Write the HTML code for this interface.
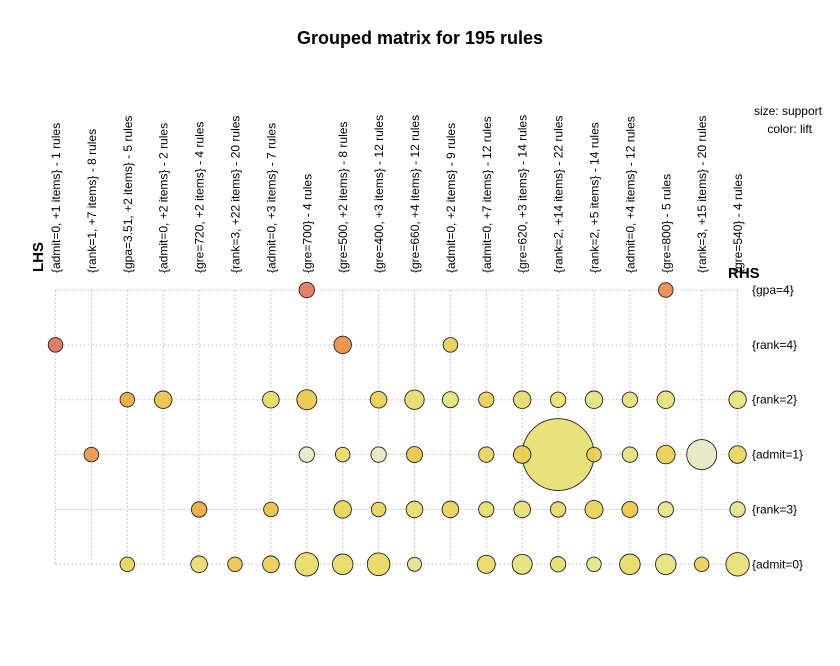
<!DOCTYPE html>
<html><head><meta charset="utf-8"><style>
body{margin:0;background:#fff;}
svg text{font-family:"Liberation Sans",Arial,sans-serif;}
</style></head><body>
<svg id="chart" width="840" height="661" viewBox="0 0 840 661" xmlns="http://www.w3.org/2000/svg">
<rect width="840" height="661" fill="#fff"/>
<text x="420" y="44" text-anchor="middle" font-size="18" font-weight="bold">Grouped matrix for 195 rules</text>
<text x="822" y="115" text-anchor="end" font-size="12">size: support</text>
<text x="812" y="133" text-anchor="end" font-size="12">color: lift</text>
<text transform="translate(43,272) rotate(-90)" font-size="15" font-weight="bold">LHS</text>
<text x="728" y="278" font-size="15" font-weight="bold">RHS</text>
<g id="grid"></g>
<g id="marks"></g>
<g id="labels"></g>
</svg>
<script>
const lhsLabels = ["{admit=0, +1 items} - 1 rules","{rank=1, +7 items} - 8 rules","{gpa=3.51, +2 items} - 5 rules","{admit=0, +2 items} - 2 rules","{gre=720, +2 items} - 4 rules","{rank=3, +22 items} - 20 rules","{admit=0, +3 items} - 7 rules","{gre=700} - 4 rules","{gre=500, +2 items} - 8 rules","{gre=400, +3 items} - 12 rules","{gre=660, +4 items} - 12 rules","{admit=0, +2 items} - 9 rules","{admit=0, +7 items} - 12 rules","{gre=620, +3 items} - 14 rules","{rank=2, +14 items} - 22 rules","{rank=2, +5 items} - 14 rules","{admit=0, +4 items} - 12 rules","{gre=800} - 5 rules","{rank=3, +15 items} - 20 rules","{gre=540} - 4 rules"];
const rhsLabels = ["{gpa=4}","{rank=4}","{rank=2}","{admit=1}","{rank=3}","{admit=0}"];
// points: column index, row index, support (relative), lift
const pointCol = [0,1,2,2,3,4,4,5,6,6,6,7,7,7,7,8,8,8,8,9,9,9,9,10,10,10,10,11,11,11,12,12,12,12,13,13,13,13,14,14,14,14,15,15,15,15,16,16,16,16,17,17,17,17,17,18,18,19,19,19,19];
const pointRow = [1,3,2,5,2,4,5,5,2,4,5,0,2,3,5,1,3,4,5,2,3,4,5,2,3,4,5,1,2,4,2,3,4,5,2,3,4,5,2,3,4,5,2,3,4,5,2,3,4,5,0,2,3,4,5,3,5,2,3,4,5];
const pointSupport = [0.53,0.53,0.53,0.53,0.76,0.59,0.69,0.53,0.69,0.53,0.69,0.59,1.0,0.59,1.37,0.76,0.53,0.76,1.06,0.69,0.59,0.53,1.28,0.94,0.64,0.69,0.49,0.53,0.64,0.69,0.59,0.59,0.59,0.81,0.76,0.76,0.69,1.0,0.59,12.9,0.59,0.59,0.76,0.53,0.81,0.53,0.59,0.59,0.64,1.06,0.53,0.76,0.86,0.59,1.06,2.25,0.53,0.76,0.76,0.59,1.37];
const pointLift = [4.0,3.4,3.0,2.2,2.6,3.0,1.8,2.5,1.9,2.6,2.3,3.9,2.5,1.0,1.9,3.5,1.9,2.2,1.9,2.3,1.0,2.2,2.0,1.9,2.5,1.8,1.4,2.3,1.6,2.2,2.3,2.1,1.8,1.9,1.9,2.3,1.7,1.6,1.7,1.75,1.9,1.8,1.5,2.3,2.2,1.45,1.7,1.55,2.5,1.9,3.6,1.6,2.3,1.45,1.55,1.0,2.3,1.55,2.1,1.4,1.7];

const X0=55.5, DX=35.9, Y0=290, DY=54.86;
const xOf = c => X0 + c*DX;
const yOf = r => Y0 + r*DY;
const rOf = s => 10*Math.sqrt(s);
const stops = [[1.0,[230,232,196]],[1.5,[230,228,128]],[2.0,[232,216,96]],[2.5,[236,200,72]],[3.0,[238,170,58]],[3.5,[236,144,72]],[4.0,[224,112,96]]];
function colorOf(l){
  if(l<=stops[0][0]) return 'rgb('+stops[0][1]+')';
  for(let i=1;i<stops.length;i++){
    if(l<=stops[i][0]){
      const a=stops[i-1],b=stops[i],t=(l-a[0])/(b[0]-a[0]);
      return 'rgb('+a[1].map((v,k)=>Math.round(v+(b[1][k]-v)*t)).join(',')+')';
    }
  }
  return 'rgb('+stops[stops.length-1][1]+')';
}
const NS='http://www.w3.org/2000/svg';
const grid=document.getElementById('grid'), marks=document.getElementById('marks'), labels=document.getElementById('labels');
rhsLabels.forEach((t,r)=>{
  const ln=document.createElementNS(NS,'line');
  ln.setAttribute('x1',xOf(0));ln.setAttribute('x2',xOf(lhsLabels.length-1));
  ln.setAttribute('y1',yOf(r));ln.setAttribute('y2',yOf(r));
  ln.setAttribute('stroke','#c8c8c8');ln.setAttribute('stroke-dasharray','2,2');
  
  
  grid.appendChild(ln);
  const tx=document.createElementNS(NS,'text');
  tx.setAttribute('x',752);tx.setAttribute('y',yOf(r)+4);tx.setAttribute('font-size','12');
  tx.textContent=t;
  
  
  labels.appendChild(tx);
});
lhsLabels.forEach((t,c)=>{
  const ln=document.createElementNS(NS,'line');
  ln.setAttribute('x1',xOf(c));ln.setAttribute('x2',xOf(c));
  ln.setAttribute('y1',yOf(0));ln.setAttribute('y2',yOf(rhsLabels.length-1));
  ln.setAttribute('stroke','#c8c8c8');ln.setAttribute('stroke-dasharray','2,2');
  
  
  grid.appendChild(ln);
  const tx=document.createElementNS(NS,'text');
  tx.setAttribute('transform','translate('+(xOf(c)+4.5)+',273) rotate(-90)');
  tx.setAttribute('font-size','12');
  tx.textContent=t;
  
  
  labels.appendChild(tx);
});
const order=pointCol.map((_,i)=>i).sort((a,b)=>pointSupport[b]-pointSupport[a]);
order.forEach(i=>{
  const ci=document.createElementNS(NS,'circle');
  ci.setAttribute('cx',xOf(pointCol[i]));ci.setAttribute('cy',yOf(pointRow[i]));
  ci.setAttribute('r',rOf(pointSupport[i]));
  ci.setAttribute('fill',colorOf(pointLift[i]));ci.setAttribute('fill-opacity','0.92');
  ci.setAttribute('stroke','#222');ci.setAttribute('stroke-width','0.9');
  
  
  marks.appendChild(ci);
});
</script>
</body></html>
